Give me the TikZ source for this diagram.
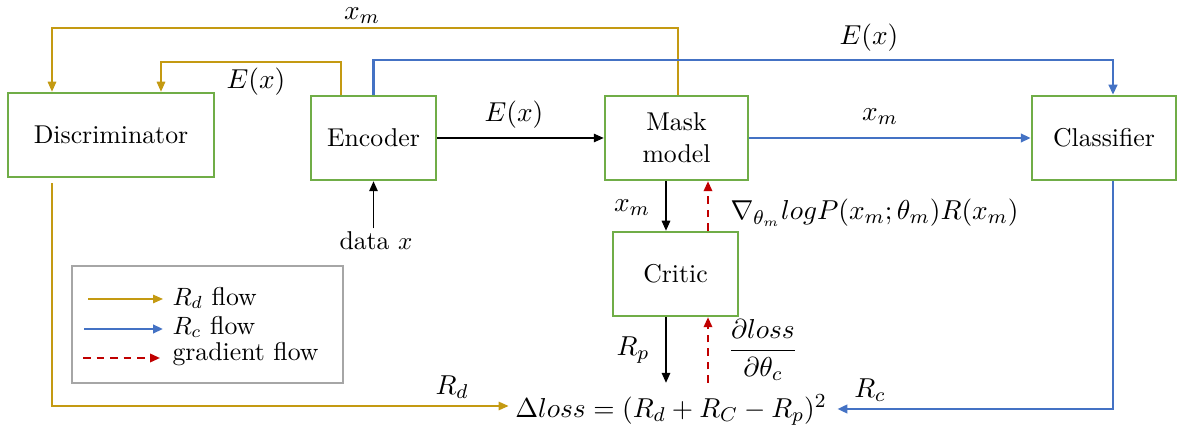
\documentclass[tikz,border=0pt]{standalone}
\usetikzlibrary{arrows.meta,calc}
\definecolor{rdcol}{HTML}{C49A12}
\definecolor{rccol}{HTML}{4472C4}
\definecolor{boxgreen}{HTML}{70AD47}
\definecolor{gradred}{HTML}{C00000}
\definecolor{leggray}{HTML}{A6A6A6}
\begin{document}
\begin{tikzpicture}[x=0.4pt,y=-0.4pt,
  font=\fontsize{10.3}{12.8}\selectfont,
  blk/.style={draw=boxgreen, line width=1pt, fill=white, inner sep=0pt, align=center, minimum height=33.6pt},
  tip/.style={-{Triangle[length=4pt,width=3.4pt]}},
  rdflow/.style={tip, draw=rdcol, line width=0.6pt},
  rcflow/.style={tip, draw=rccol, line width=1pt},
  blackflow/.style={tip, draw=black, line width=0.6pt},
  gradflow/.style={tip, draw=gradred, line width=0.8pt, dash pattern=on 3pt off 2.4pt},
  lbl/.style={inner sep=0pt, font=\fontsize{10.9}{13}\selectfont}]
\useasboundingbox (0,0) rectangle (1189,432);

% boxes
\node[blk, minimum width=82.4pt] (disc) at (111,135) {Discriminator};
\node[blk, minimum width=50pt] (enc) at (373.5,138) {Encoder};
\node[blk, minimum width=57.2pt] (mask) at (676.5,138) {Mask\\model};
\node[blk, minimum width=57.6pt] (cls) at (1104,138) {Classifier};
\node[blk, minimum width=50pt] (critic) at (675.5,274) {Critic};
\node[lbl, inner xsep=2.5pt, inner ysep=4.5pt] (loss) at (671,410) {$\Delta loss=(R_d+R_C-R_p)^2$};
\node[inner sep=0pt] (data) at (376,241) {data $x$};

% coordinates
\coordinate (xmL) at (52,28);
\coordinate (xmR) at (678,28);
\coordinate (exL) at (161,62);
\coordinate (exR) at (341,62);
\coordinate (ecL) at (373.5,60);
\coordinate (ecR) at (1113,60);
\coordinate (ccol) at (666,0);
\coordinate (gcol) at (708,0);
\coordinate (rdB) at (52,406);
\coordinate (rcB) at (1113,409);

% R_d flows
\draw[rdflow] (mask.north -| xmR) -- (xmR) -- (xmL) -- (xmL |- disc.north);
\draw[rdflow] (enc.north -| exR) -- (exR) -- (exL) -- (exL |- disc.north);
\draw[rdflow] ($(disc.south -| rdB)+(0,5)$) -- (rdB) -- (rdB -| loss.west);

% R_c flows
\draw[rcflow] (enc.north) -- (ecL) -- (ecR) -- (ecR |- cls.north);
\draw[rcflow] (mask) -- (cls);
\draw[rcflow] (cls.south -| rcB) -- (rcB) -- ($(rcB -| loss.east)+(4,0)$);

% black flows
\draw[blackflow] (enc) -- (mask);
\draw[blackflow] ($(data.north -| enc.south)+(0,-3)$) -- (enc.south);
\draw[blackflow] (mask.south -| ccol) -- (critic.north -| ccol);
\draw[blackflow] (critic.south -| ccol) -- (loss.north -| ccol);

% gradient flows
\draw[gradflow] (critic.north -| gcol) -- (mask.south -| gcol);
\draw[gradflow] (loss.north -| gcol) -- (critic.south -| gcol);

% labels
\node[lbl] (lxm1) at (362,16) {$x_m$};
\node[lbl] (lex1) at (256,82) {$E(x)$};
\node[lbl] (lex2) at (869,38) {$E(x)$};
\node[lbl] (lex3) at (514,115) {$E(x)$};
\node[lbl] (lxm2) at (880,117) {$x_m$};
\node[lbl] (lxm3) at (632,208) {$x_m$};
\node[lbl, anchor=west] (lgrad) at (730,213) {$\nabla_{\theta_m} logP(x_m;\theta_m)R(x_m)$};
\node[lbl] (lrp) at (633,350) {$R_p$};
\node[lbl] (ldl) at (763,350) {$\displaystyle\frac{\partial loss}{\partial\theta_c}$};
\node[lbl] (lrd) at (452,387) {$R_d$};
\node[lbl] (lrc) at (870,390) {$R_c$};

% legend
\node[draw=leggray, line width=0.6pt, minimum width=108.4pt, minimum height=46.8pt, inner sep=0pt] (legend) at (207.5,324.5) {};
\coordinate (l1a) at (88,299);  \coordinate (l1b) at (163,299);
\coordinate (l2a) at (84,329);  \coordinate (l2b) at (163,329);
\coordinate (l3a) at (83,358);  \coordinate (l3b) at (160,358);
\draw[rdflow] (l1a) -- (l1b);
\draw[rcflow] (l2a) -- (l2b);
\draw[gradflow] (l3a) -- (l3b);
\node[inner sep=0pt, anchor=west] (lt1) at (172,298) {$R_d$ flow};
\node[inner sep=0pt, anchor=west] (lt2) at (172,327) {$R_c$ flow};
\node[inner sep=0pt, anchor=west] (lt3) at (172,354) {gradient flow};
\end{tikzpicture}
\end{document}
